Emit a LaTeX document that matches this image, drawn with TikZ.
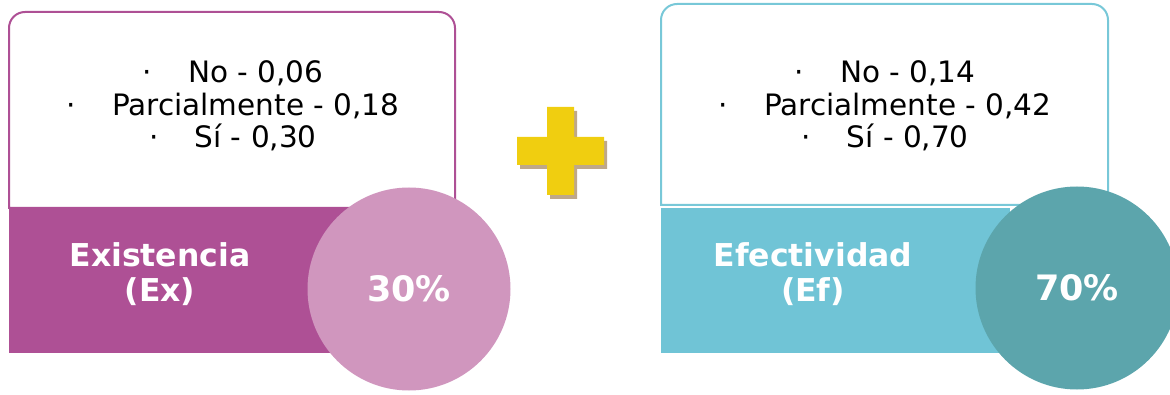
\documentclass[tikz,border=0pt]{standalone}
\usepackage{fontspec}
\setmainfont{DejaVu Sans}
\usepackage{xcolor}
\usepackage{tikz}

\definecolor{exdark}{HTML}{AE5095}
\definecolor{exlight}{HTML}{D096BE}
\definecolor{efline}{HTML}{78C8D8}
\definecolor{eflight}{HTML}{70C4D6}
\definecolor{efdark}{HTML}{5CA5AC}
\definecolor{plusyel}{HTML}{F0CE10}
\definecolor{plusshd}{HTML}{BFA888}

\begin{document}
\begin{tikzpicture}[x=1pt,y=-1pt,
  listtxt/.style={align=center,font=\fontsize{29.5}{32.5}\selectfont},
  labeltxt/.style={align=center,text=white,font=\fontsize{31.5}{35}\selectfont\bfseries},
  pct/.style={circle,inner sep=0pt,minimum size=203pt,text=white,font=\fontsize{35}{40}\selectfont\bfseries}]
\useasboundingbox (0,0) rectangle (1170,395);

% Existencia
\draw[exdark,line width=2pt,fill=white] (9,208) [rounded corners=16pt] -- (9,12) -- (455,12) [sharp corners] -- (455,208) -- cycle;
\node[listtxt] (exlist) at (233,106) {\textperiodcentered\hspace{36pt}No - 0,06\\
  \textperiodcentered\hspace{36pt}Parcialmente - 0,18\\
  \textperiodcentered\hspace{36pt}Sí - 0,30};
\fill[exdark] (9,208) rectangle (360,353);
\node[labeltxt] (exname) at (160,274) {Existencia\\(Ex)};
\node[pct,fill=exlight] (expct) at (409,289) {30\%};

% plus
\fill[plusshd] (550,111) rectangle (577,199) (520,141) rectangle (607,169);
\fill[plusyel] (547,107) rectangle (574,195) (517,137) rectangle (604,165);

% Efectividad
\draw[efline,line width=2pt,fill=white] (661,205) [rounded corners=16pt] -- (661,4) -- (1108,4) [sharp corners] -- (1108,205) -- cycle;
\node[listtxt] (eflist) at (885,106) {\textperiodcentered\hspace{36pt}No - 0,14\\
  \textperiodcentered\hspace{36pt}Parcialmente - 0,42\\
  \textperiodcentered\hspace{36pt}Sí - 0,70};
\fill[eflight] (661,208) rectangle (1010,353);
\node[labeltxt] (efname) at (813,274) {Efectividad\\(Ef)};
\node[pct,fill=efdark] (efpct) at (1077,288) {70\%};
\end{tikzpicture}
\end{document}
